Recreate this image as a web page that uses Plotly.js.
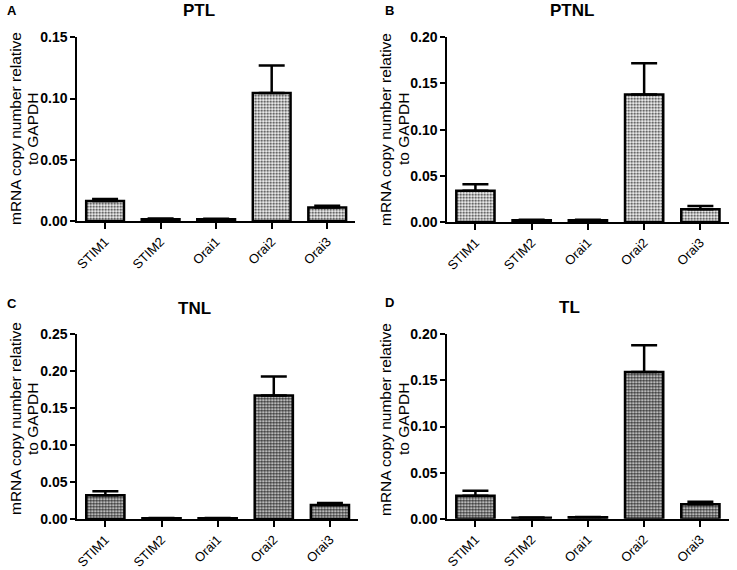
<!DOCTYPE html>
<html>
<head>
<meta charset="utf-8">
<script src="https://cdn.plot.ly/plotly-3.0.1.min.js"></script>
<style>html,body{margin:0;padding:0;background:#fff;}#chart{width:737px;height:570px;}</style>
</head>
<body>
<div id="chart"></div>
<script>
const categories = ["STIM1", "STIM2", "Orai1", "Orai2", "Orai3"];
const panelTitles = ["PTL", "PTNL", "TNL", "TL"];
const panelLetters = ["A", "B", "C", "D"];
const yTitleLines = ["mRNA copy number relative", "to GAPDH"];
const ptlMean = [0.0163, 0.0015, 0.0015, 0.1046, 0.0110];
const ptlErr  = [0.0017, 0.0005, 0.0004, 0.0224, 0.0015];
const ptnlMean = [0.0339, 0.0020, 0.0020, 0.1380, 0.0137];
const ptnlErr  = [0.0069, 0.0005, 0.0005, 0.0340, 0.0036];
const tnlMean = [0.0321, 0.0010, 0.0010, 0.1670, 0.0190];
const tnlErr  = [0.0055, 0.0004, 0.0003, 0.0260, 0.0027];
const tlMean = [0.0249, 0.0010, 0.0015, 0.1590, 0.0156];
const tlErr  = [0.0055, 0.0003, 0.0004, 0.0290, 0.0028];
const yMax = [0.15, 0.20, 0.25, 0.20];
const yDtick = [0.05, 0.05, 0.05, 0.05];

const means = [ptlMean, ptnlMean, tnlMean, tlMean];
const errs = [ptlErr, ptnlErr, tnlErr, tlErr];
const solid = [0.4, 0.4, 0.6, 0.6];

const W = 737, H = 570;
// plot rectangles in pixels [x0, x1, yTop, yBottom]
const rects = [
  [77.3, 355, 37.3, 221],
  [447.3, 728.5, 37.3, 222],
  [77.3, 358, 334.3, 519],
  [447.3, 728.5, 334.3, 518.7]
];
const titlePos = [[199, 11], [571.7, 11], [194, 308], [569, 307]];
const letterPos = [[12, 10], [389, 10], [12, 303], [389, 302]];
// [line1 x, line2 x, center y]
const yTitlePos = [[15, 32, 129], [385, 403, 129], [15, 32, 419], [385, 403, 419]];

const FONT = "Arial, 'Liberation Sans', sans-serif";
const traces = [];
const layout = {
  width: W, height: H,
  margin: {l: 0, r: 0, t: 0, b: 0},
  paper_bgcolor: "#fff", plot_bgcolor: "#fff",
  showlegend: false,
  font: {family: FONT, color: "#000"},
  annotations: []
};

for (let i = 0; i < 4; i++) {
  const ax = i === 0 ? "" : String(i + 1);
  traces.push({
    type: "bar",
    x: categories,
    y: means[i],
    xaxis: "x" + ax,
    yaxis: "y" + ax,
    width: 0.68,
    marker: {
      color: "#fff",
      line: {color: "#000", width: 2.5},
      pattern: {shape: ".", fgcolor: "#222", bgcolor: "#fff", size: 3, solidity: solid[i]}
    },
    error_y: {type: "data", array: errs[i], arrayminus: errs[i].map(() => 0), symmetric: false,
              color: "#000", thickness: 2.5, width: 13},
    hoverinfo: "none"
  });
  const r = rects[i];
  layout["xaxis" + ax] = {
    domain: [r[0] / W, r[1] / W],
    anchor: "y" + ax,
    type: "category",
    range: [-0.5, 4.5],
    showline: true, linecolor: "#000", linewidth: 2,
    ticks: "outside", ticklen: 6, tickwidth: 2, tickcolor: "#000",
    tickangle: -45,
    tickfont: {family: FONT, size: 13, color: "#000"},
    showgrid: false, zeroline: false, fixedrange: true
  };
  layout["yaxis" + ax] = {
    domain: [1 - r[3] / H, 1 - r[2] / H],
    anchor: "x" + ax,
    range: [0, yMax[i]],
    dtick: yDtick[i],
    tickformat: ".2f",
    showline: true, linecolor: "#000", linewidth: 2,
    ticks: "outside", ticklen: 5, tickwidth: 2, tickcolor: "#000",
    tickfont: {family: FONT, size: 14, color: "#000", weight: "bold"},
    showgrid: false, zeroline: false, fixedrange: true
  };
  for (let k = 0; k < 2; k++) {
    layout.annotations.push({
      text: yTitleLines[k], xref: "paper", yref: "paper", textangle: -90,
      x: yTitlePos[i][k] / W, y: 1 - yTitlePos[i][2] / H, xanchor: "center", yanchor: "middle",
      showarrow: false, font: {family: FONT, size: 15.5, color: "#000"}
    });
  }
  layout.annotations.push({
    text: "<b>" + panelTitles[i] + "</b>", xref: "paper", yref: "paper",
    x: titlePos[i][0] / W, y: 1 - titlePos[i][1] / H, xanchor: "center", yanchor: "middle",
    showarrow: false, font: {family: FONT, size: 17, color: "#000"}
  });
  layout.annotations.push({
    text: "<b>" + panelLetters[i] + "</b>", xref: "paper", yref: "paper",
    x: letterPos[i][0] / W, y: 1 - letterPos[i][1] / H, xanchor: "center", yanchor: "middle",
    showarrow: false, font: {family: FONT, size: 13, color: "#000"}
  });
}

Plotly.newPlot("chart", traces, layout, {displayModeBar: false, staticPlot: true});
</script>
</body>
</html>
